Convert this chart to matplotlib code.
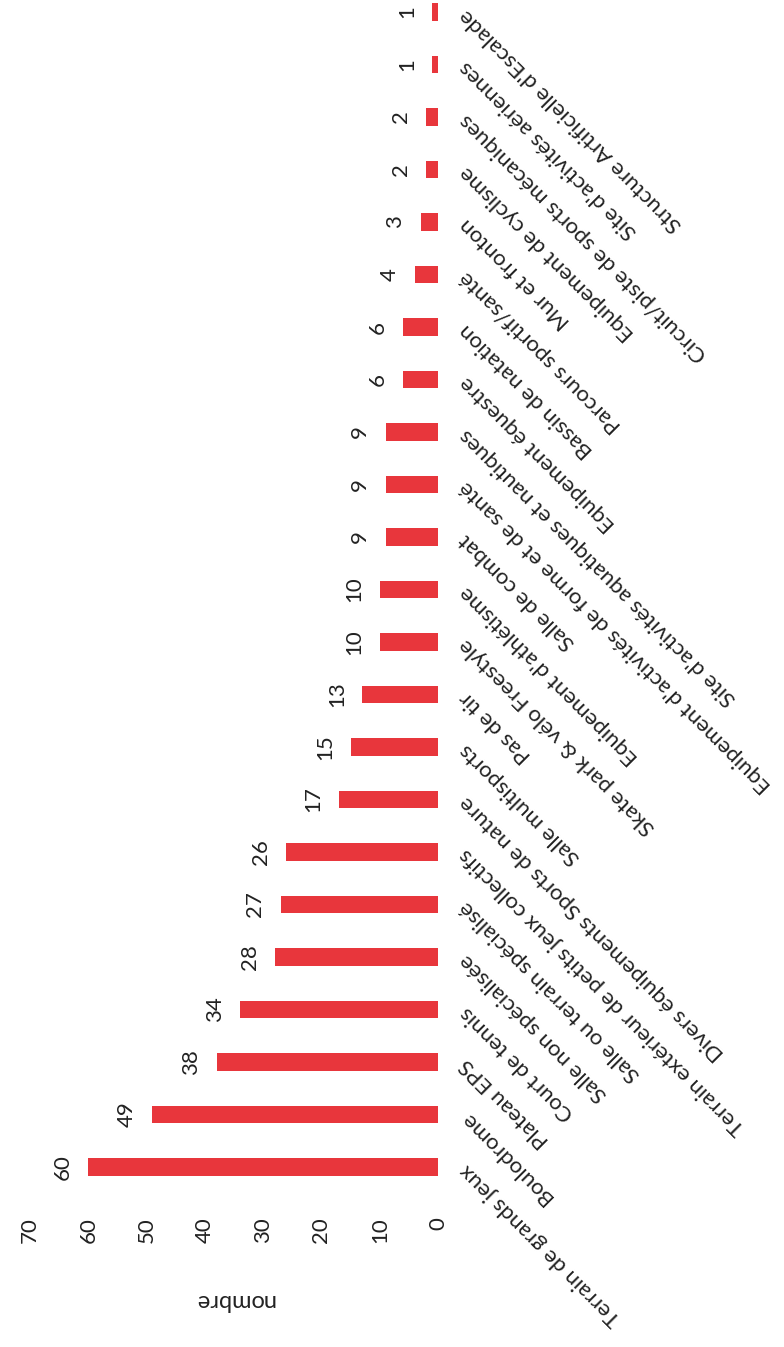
"""Nombre d'équipements sportifs par type (graphique tourné de 90°)."""

import numpy as np
import matplotlib
matplotlib.use("Agg")
import matplotlib.pyplot as plt

plt.rcParams['font.family'] = ['Lato', 'DejaVu Sans']

categories = [
    "Terrain de grands jeux",
    "Boulodrome",
    "Plateau EPS",
    "Court de tennis",
    "Salle non spécialisée",
    "Salle ou terrain spécialisé",
    "Terrain extérieur de petits jeux collectifs",
    "Divers équipements Sports de nature",
    "Salle multisports",
    "Pas de tir",
    "Skate park & vélo Freestyle",
    "Equipement d'athlétisme",
    "Salle de combat",
    "Equipement d'activités de forme et de santé",
    "Site d'activités aquatiques et nautiques",
    "Equipement équestre",
    "Bassin de natation",
    "Parcours sportif/santé",
    "Mur et fronton",
    "Equipement de cyclisme",
    "Circuit/piste de sports mécaniques",
    "Site d'activités aériennes",
    "Structure Artificielle d'Escalade",
]
counts = [60, 49, 38, 34, 28, 27, 26, 17, 15, 13, 10, 10, 9, 9, 9,
          6, 6, 4, 3, 2, 2, 1, 1]
value_ticks = [0, 10, 20, 30, 40, 50, 60, 70]

W, H = 784, 1347
fig = plt.figure(figsize=(W / 100, H / 100), dpi=100)
ax = fig.add_axes([30 / W, (H - 1195) / H, 408 / W, 1195 / H])

pos = np.arange(len(categories))
ax.barh(pos, counts, height=0.33, color="#e8363c")

for p, c in zip(pos, counts):
    ax.annotate(str(c), xy=(c, p), xytext=(-11, 0), textcoords="offset points",
                rotation=90, ha="right", va="center", fontsize=16,
                color="#222222")

ax.set_xlim(70, 0)
ax.set_ylim(-0.533, 22.229)

ax.set_xticks(value_ticks)
ax.set_xticklabels([str(v) for v in value_ticks], rotation=90, fontsize=16,
                   color="#222222")
ax.tick_params(axis="x", length=0, pad=16)

ax.yaxis.tick_right()
ax.set_yticks(pos)
ax.set_yticklabels(categories, fontsize=16, color="#222222")
ax.tick_params(axis="y", length=0, pad=18)
plt.setp(ax.get_yticklabels(), rotation=135, rotation_mode="anchor",
         ha="right", va="center")

ax.set_xlabel("nombre", rotation=180, fontsize=17, color="#222222",
              labelpad=34)

for s in ax.spines.values():
    s.set_visible(False)

fig.savefig("out.png", dpi=100, facecolor="white")
